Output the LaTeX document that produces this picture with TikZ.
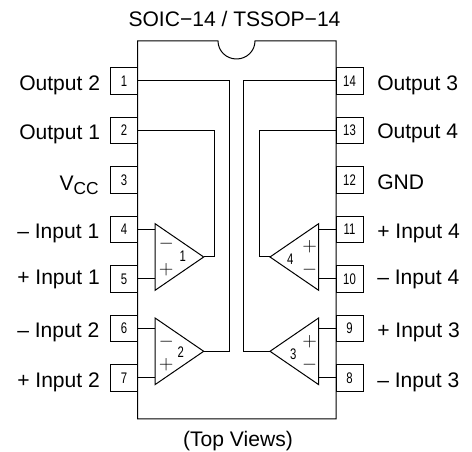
\documentclass[tikz,border=0pt]{standalone}
\usepackage{fontspec}
\setmainfont{Liberation Sans}
\newfontfamily\pinfont[FakeStretch=0.74]{Liberation Sans}
\usetikzlibrary{shapes.geometric}
\tikzset{
	x=0.75pt, y=-0.75pt,
	wire/.style={line width=0.75pt},
	pinbox/.style={draw, line width=0.75pt, minimum width=20.25pt, minimum height=20pt, inner sep=0pt, outer sep=0pt, font=\pinfont\fontsize{11.5}{12}\selectfont},
	lbl/.style={inner sep=0pt, font=\fontsize{15.8}{17}\selectfont},
	lblw/.style={lbl, anchor=base west},
	ampsym/.style={inner sep=0pt, font=\fontsize{14.4}{15}\selectfont},
	ampnum/.style={inner sep=0pt, font=\pinfont\fontsize{11.5}{12}\selectfont},
	amp/.style={draw, line width=0.75pt, isosceles triangle, isosceles triangle stretches=true, minimum width=50pt, minimum height=36.5pt, inner sep=0pt, outer sep=0pt, anchor=apex},
}
\begin{document}
\begin{tikzpicture}
	\useasboundingbox (0,0) rectangle (472,452);

	% Cuerpo del integrado
	\draw[wire] (137.5,41) -- (218,41) arc (180:0:18.5 and 18) -- (336,41) -- (336,419) -- (137.5,419) -- cycle;

	% Pines izquierdos
	\node[pinbox] (p1) at (124,81) {1};
	\node[pinbox] (p2) at (124,130.5) {2};
	\node[pinbox] (p3) at (124,180) {3};
	\node[pinbox] (p4) at (124,229.5) {4};
	\node[pinbox] (p5) at (124,279) {5};
	\node[pinbox] (p6) at (124,328.5) {6};
	\node[pinbox] (p7) at (124,378) {7};

	% Pines derechos
	\node[pinbox] (p14) at (349.5,81) {14};
	\node[pinbox] (p13) at (349.5,130.5) {13};
	\node[pinbox] (p12) at (349.5,180) {12};
	\node[pinbox] (p11) at (349.5,229.5) {11};
	\node[pinbox] (p10) at (349.5,279) {10};
	\node[pinbox] (p9) at (349.5,328.5) {9};
	\node[pinbox] (p8) at (349.5,378) {8};

	% Amplificadores
	\node[amp] (a1) at (203.7,257) {};
	\node[amp] (a2) at (203.7,351.3) {};
	\node[amp, shape border rotate=180] (a4) at (270,257) {};
	\node[amp, shape border rotate=180] (a3) at (270,351.3) {};

	% Entradas
	\draw[wire] (p4.east) -- (p4.east -| a1.lower side);
	\draw[wire] (p5.east) -- (p5.east -| a1.lower side);
	\draw[wire] (p6.east) -- (p6.east -| a2.lower side);
	\draw[wire] (p7.east) -- (p7.east -| a2.lower side);
	\draw[wire] (p11.west) -- (p11.west -| a4.lower side);
	\draw[wire] (p10.west) -- (p10.west -| a4.lower side);
	\draw[wire] (p9.west) -- (p9.west -| a3.lower side);
	\draw[wire] (p8.west) -- (p8.west -| a3.lower side);

	% Salidas
	\draw[wire] (p1.east) -| (229.7,351.3) -- (a2.apex);
	\draw[wire] (p2.east) -| (214.7,257) -- (a1.apex);
	\draw[wire] (p14.west) -| (243.7,351.3) -- (a3.apex);
	\draw[wire] (p13.west) -| (259,257) -- (a4.apex);

	% Signos y numeros
	\node[ampsym] (m1) at (166.3,243.3) {$-$};
	\node[ampsym] (s1) at (166.3,270) {$+$};
	\node[ampnum] (n1) at (182.7,256.7) {1};
	\node[ampsym] (m2) at (166.3,341.3) {$-$};
	\node[ampsym] (s2) at (166.3,364.7) {$+$};
	\node[ampnum] (n2) at (180.7,352.3) {2};
	\node[ampsym] (s4) at (309.7,246.7) {$+$};
	\node[ampsym] (m4) at (309.7,269.3) {$-$};
	\node[ampnum] (n4) at (290.3,259.3) {4};
	\node[ampsym] (s3) at (309.7,341.7) {$+$};
	\node[ampsym] (m3) at (309.7,364.3) {$-$};
	\node[ampnum] (n3) at (293.3,354.3) {3};

	% Etiquetas
	\node[lbl] (title) at (234.5,19) {SOIC−14 / TSSOP−14};
	\node[lbl] (views) at (238,441) {(Top Views)};
	\node[lblw] (l1) at (19,91) {Output 2};
	\node[lblw] (l2) at (19,139.3) {Output 1};
	\node[lblw] (l3) at (59.3,190.7) {V\raisebox{-3pt}{\fontsize{13}{14}\selectfont CC}};
	\node[lblw] (l4) at (17,238.3) {– Input 1};
	\node[lblw] (l5) at (17,285) {+ Input 1};
	\node[lblw] (l6) at (17,337.3) {– Input 2};
	\node[lblw] (l7) at (17,387.7) {+ Input 2};
	\node[lblw] (l14) at (377,90.7) {Output 3};
	\node[lblw] (l13) at (377,138.3) {Output 4};
	\node[lblw] (l12) at (377,190) {GND};
	\node[lblw] (l11) at (377,238.3) {+ Input 4};
	\node[lblw] (l10) at (377,285) {– Input 4};
	\node[lblw] (l9) at (377,337.3) {+ Input 3};
	\node[lblw] (l8) at (377,387.7) {– Input 3};
\end{tikzpicture}
\end{document}
